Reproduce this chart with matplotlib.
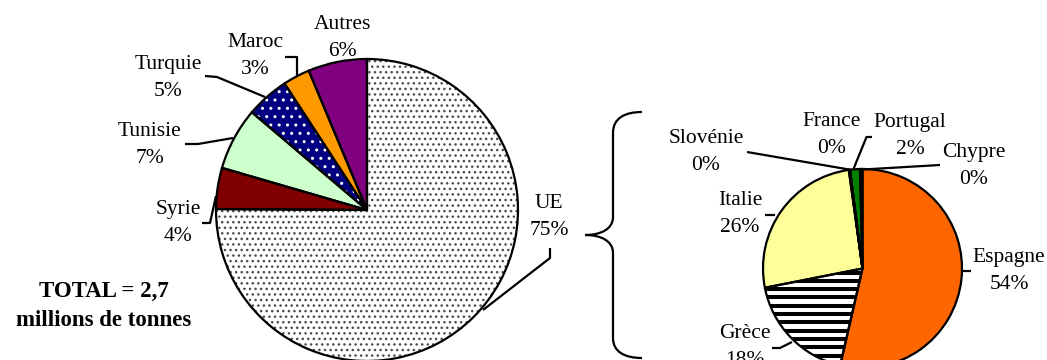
import numpy as np
import matplotlib
matplotlib.use("Agg")
import matplotlib.pyplot as plt
from matplotlib.path import Path
from matplotlib.patches import PathPatch

W, H = 1047, 360

# World production shares (%)
world_names = ["UE", "Syrie", "Tunisie", "Turquie", "Maroc", "Autres"]
world_shares = [75.1, 4.4, 6.7, 4.6, 2.9, 6.3]
world_colors = ["white", "#800000", "#CCFFCC", "#000080", "#FF9900", "#800080"]

# Breakdown of the EU share (%)
eu_names = ["Espagne", "Grèce", "Italie", "Slovénie", "France", "Portugal", "Chypre"]
eu_shares = [53.6, 18.3, 25.9, 0.1, 0.1, 1.6, 0.4]
eu_colors = ["#FF6600", "white", "#FFFF99", "#99CCFF", "#3366FF", "#008000", "#000000"]

total_text = "TOTAL = 2,7\nmillions de tonnes"

SERIF = "Liberation Serif"


def py(y):
    """Pixel row (from top) to axes y."""
    return H - y


fig = plt.figure(figsize=(W / 100, H / 100), dpi=100)
ax = fig.add_axes([0, 0, 1, 1])


def draw_pie(shares, colors, center, radius):
    cx, cy = center
    fills, _ = ax.pie(shares, colors=colors, startangle=90, counterclock=False,
                      center=(cx, py(cy)), radius=radius, frame=True,
                      wedgeprops=dict(linewidth=0))
    edges, _ = ax.pie(shares, startangle=90, counterclock=False,
                      center=(cx, py(cy)), radius=radius, frame=True,
                      wedgeprops=dict(fill=False, edgecolor="black", linewidth=1.6))
    for e in edges:
        e.set_zorder(3)
    return fills


# ---- left pie: world ----
left = draw_pie(world_shares, world_colors, (367, 210), 151)
left[0].set_hatch("...")
left[0].set_edgecolor("#4a4a4a")
left[3].set_hatch("..")
left[3].set_edgecolor("white")

# ---- right pie: EU ----
right = draw_pie(eu_shares, eu_colors, (862.5, 268.5), 99.5)
greece = right[1]
for yy in np.arange(268.5 + 4, 380, 8.3):
    ln = ax.axhline(py(yy), color="black", linewidth=2.9, zorder=2)
    ln.set_clip_path(greece)

# ---- labels ----
world_label_pos = [(549, 217), (178, 223), (150, 145), (168, 78), (255, 56), (342, 38)]
eu_label_pos = [(1009, 271), (745, 347), (740, 214), (706, 152), (832, 135), (910, 136), (974, 166)]

for names, shares, positions in ((world_names, world_shares, world_label_pos),
                                 (eu_names, eu_shares, eu_label_pos)):
    for name, share, (x, y) in zip(names, shares, positions):
        ax.text(x, py(y), f"{name}\n{round(share):d}%", ha="center", va="center",
                fontsize=15.5, family=SERIF, linespacing=1.55, zorder=5)

# ---- leader lines ----
leaders = [
    [(550, 248), (550, 258), (483, 310)],          # UE
    [(202, 223), (210, 223), (216, 196)],          # Syrie
    [(185, 144), (198, 144), (233, 138)],          # Tunisie
    [(205, 76), (217, 77), (265, 97)],             # Turquie
    [(285, 57), (296.5, 57), (296.5, 76)],         # Maroc
    [(747, 152), (852, 170)],                      # Slovénie
    [(872, 137), (866.5, 137), (853.5, 169)],      # Portugal
    [(940, 165), (863, 169.5)],                    # Chypre
    [(765, 215), (775, 215)],                      # Italie
    [(962, 271), (971, 271)],                      # Espagne
    [(772, 348), (780, 348), (792, 342)],          # Grèce
]
for pts in leaders:
    xs = [p[0] for p in pts]
    ys = [py(p[1]) for p in pts]
    ax.plot(xs, ys, color="black", linewidth=1.6, solid_capstyle="butt", zorder=4)

# ---- brace linking the EU slice to its breakdown ----
brace_pts = [
    (642, 112), (625, 112), (613, 118), (613, 133),
    (613, 217),
    (613, 229), (601, 235), (585, 235),
    (601, 235), (613, 241), (613, 253),
    (613, 338),
    (613, 352), (625, 358), (642, 358),
]
codes = [Path.MOVETO, Path.CURVE4, Path.CURVE4, Path.CURVE4,
         Path.LINETO,
         Path.CURVE4, Path.CURVE4, Path.CURVE4,
         Path.CURVE4, Path.CURVE4, Path.CURVE4,
         Path.LINETO,
         Path.CURVE4, Path.CURVE4, Path.CURVE4]
brace = Path([(x, py(y)) for x, y in brace_pts], codes)
ax.add_patch(PathPatch(brace, facecolor="none", edgecolor="black", linewidth=1.6, zorder=4))

# ---- total ----
ax.text(104, py(306), total_text, ha="center", va="center", fontsize=16.5,
        family=SERIF, fontweight="bold", linespacing=1.45, zorder=5)

ax.set_xlim(0, W)
ax.set_ylim(0, H)
ax.set_aspect("equal")
ax.axis("off")

fig.savefig("out.png", dpi=100, facecolor="white")
